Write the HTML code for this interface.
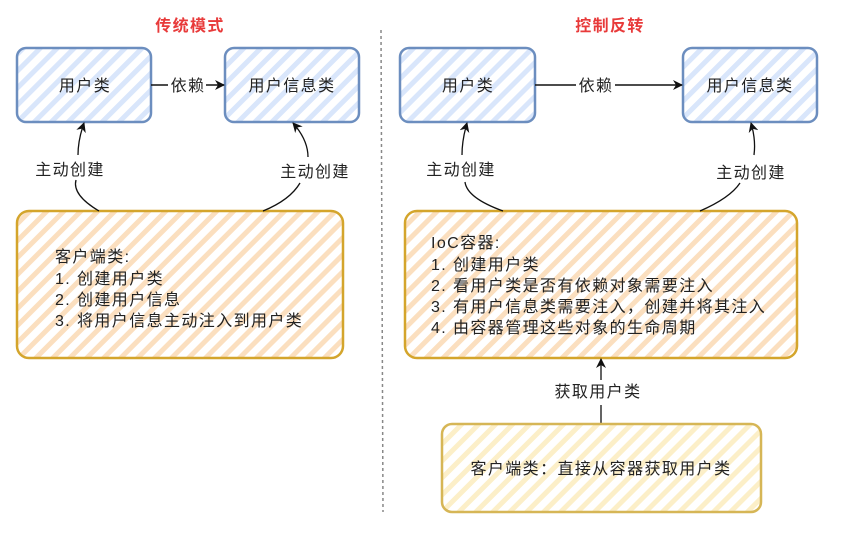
<!DOCTYPE html>
<html><head><meta charset="utf-8"><style>
html,body{margin:0;padding:0;background:#fff;}
svg text{font-family:"Liberation Sans","Noto Sans CJK SC",sans-serif;letter-spacing:1.4px;}
</style></head><body>
<svg width="866" height="528" viewBox="0 0 866 528" xmlns="http://www.w3.org/2000/svg">
<defs>
<pattern id="hb" width="12" height="12" patternUnits="userSpaceOnUse" patternTransform="rotate(45)">
<rect width="12" height="12" fill="#fff"/><rect width="5" height="12" fill="#d9e6fb"/></pattern>
<pattern id="ho" width="12" height="12" patternUnits="userSpaceOnUse" patternTransform="rotate(45)">
<rect width="12" height="12" fill="#fff"/><rect width="5" height="12" fill="#fbdfbf"/></pattern>
<pattern id="hy" width="12" height="12" patternUnits="userSpaceOnUse" patternTransform="rotate(45)">
<rect width="12" height="12" fill="#fff"/><rect width="5" height="12" fill="#fcefc8"/></pattern>
<marker id="ar" markerWidth="10" markerHeight="10" refX="9" refY="5" orient="auto" markerUnits="userSpaceOnUse">
<path d="M0,0 L10,5 L0,10 L3,5 Z" fill="#111"/></marker>
</defs>
<text x="190" y="31" font-size="16" font-weight="bold" fill="#e83a3a" text-anchor="middle">传统模式</text>
<text x="610" y="31" font-size="16" font-weight="bold" fill="#e83a3a" text-anchor="middle">控制反转</text>
<line x1="381" y1="30" x2="383" y2="512" stroke="#888" stroke-width="1.5" stroke-dasharray="3,3"/>

<!-- left -->
<rect x="17" y="48" width="134" height="74" rx="9" fill="url(#hb)" stroke="#6c8ebf" stroke-width="2.5"/>
<text x="85" y="91" font-size="16" text-anchor="middle" fill="#222">用户类</text>
<rect x="225" y="48" width="134" height="74" rx="9" fill="url(#hb)" stroke="#6c8ebf" stroke-width="2.5"/>
<text x="292" y="91" font-size="16" text-anchor="middle" fill="#222">用户信息类</text>
<line x1="151" y1="85" x2="168" y2="85" stroke="#111" stroke-width="1.5"/>
<text x="188" y="91" font-size="16" text-anchor="middle" fill="#222">依赖</text>
<line x1="206" y1="85" x2="224" y2="85" stroke="#111" stroke-width="1.5" marker-end="url(#ar)"/>

<rect x="17" y="211" width="326" height="147" rx="12" fill="url(#ho)" stroke="#d4a52c" stroke-width="2.5"/>
<g font-size="16" fill="#222">
<text x="55" y="262">客户端类:</text>
<text x="55" y="284">1. 创建用户类</text>
<text x="55" y="305">2. 创建用户信息</text>
<text x="55" y="326">3. 将用户信息主动注入到用户类</text>
</g>
<path d="M99,211 Q72,195 76,180" fill="none" stroke="#111" stroke-width="1.3"/>
<path d="M78,155 Q78,140 84,123" fill="none" stroke="#111" stroke-width="1.3" marker-end="url(#ar)"/>
<text x="70" y="175" font-size="16" text-anchor="middle" fill="#222">主动创建</text>
<path d="M263,211 Q290,200 300,183" fill="none" stroke="#111" stroke-width="1.3"/>
<path d="M308,157 Q308,140 293,123" fill="none" stroke="#111" stroke-width="1.3" marker-end="url(#ar)"/>
<text x="315" y="177" font-size="16" text-anchor="middle" fill="#222">主动创建</text>

<!-- right -->
<rect x="400" y="48" width="135" height="74" rx="9" fill="url(#hb)" stroke="#6c8ebf" stroke-width="2.5"/>
<text x="468" y="91" font-size="16" text-anchor="middle" fill="#222">用户类</text>
<rect x="683" y="48" width="134" height="74" rx="9" fill="url(#hb)" stroke="#6c8ebf" stroke-width="2.5"/>
<text x="750" y="91" font-size="16" text-anchor="middle" fill="#222">用户信息类</text>
<line x1="535" y1="85" x2="576" y2="85" stroke="#111" stroke-width="1.5"/>
<text x="596" y="91" font-size="16" text-anchor="middle" fill="#222">依赖</text>
<line x1="615" y1="85" x2="682" y2="85" stroke="#111" stroke-width="1.5" marker-end="url(#ar)"/>

<rect x="405" y="211" width="392" height="147" rx="12" fill="url(#ho)" stroke="#d4a52c" stroke-width="2.5"/>
<g font-size="16" fill="#222">
<text x="431" y="248">IoC容器:</text>
<text x="431" y="270">1. 创建用户类</text>
<text x="431" y="291">2. 看用户类是否有依赖对象需要注入</text>
<text x="431" y="312">3. 有用户信息类需要注入，创建并将其注入</text>
<text x="431" y="333">4. 由容器管理这些对象的生命周期</text>
</g>
<path d="M503,211 Q467,198 465,182" fill="none" stroke="#111" stroke-width="1.3"/>
<path d="M462,155 Q462,140 467,123" fill="none" stroke="#111" stroke-width="1.3" marker-end="url(#ar)"/>
<text x="461" y="175" font-size="16" text-anchor="middle" fill="#222">主动创建</text>
<path d="M700,211 Q730,198 740,183" fill="none" stroke="#111" stroke-width="1.3"/>
<path d="M754,155 Q756,140 751,123" fill="none" stroke="#111" stroke-width="1.3" marker-end="url(#ar)"/>
<text x="751" y="178" font-size="16" text-anchor="middle" fill="#222">主动创建</text>

<line x1="601" y1="423" x2="601" y2="405" stroke="#111" stroke-width="1.3"/>
<text x="598" y="397" font-size="16" text-anchor="middle" fill="#222">获取用户类</text>
<line x1="601" y1="380" x2="601" y2="359" stroke="#111" stroke-width="1.3" marker-end="url(#ar)"/>

<rect x="442" y="424" width="319" height="88" rx="10" fill="url(#hy)" stroke="#d6b656" stroke-width="2.5"/>
<text x="601" y="474" font-size="16" text-anchor="middle" fill="#222">客户端类：直接从容器获取用户类</text>
</svg>
</body></html>
